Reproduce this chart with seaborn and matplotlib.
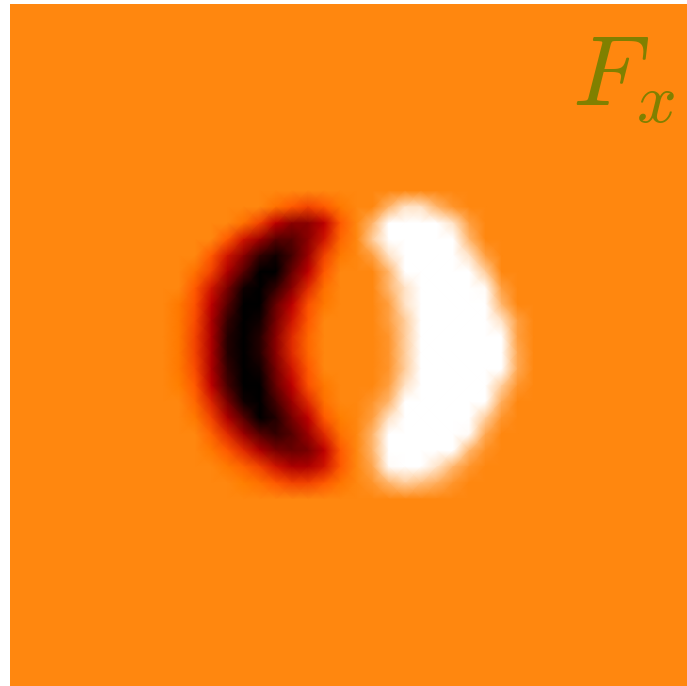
import numpy as np
import matplotlib
matplotlib.use("Agg")
import matplotlib.pyplot as plt
import seaborn as sns

# Fx sampled on a 42 x 42 grid; cells outside the listed window sit at zero.
grid_size = 42
window_row0 = 11   # grid row of the first string below
window_col0 = 10   # grid column of the first value in each string

# Negative lobe (columns 10-20) followed by positive lobe (columns 21-32), rows 11-30
fx_rows = [
    "0 0 0 0 0 0 0 0 0 0 0        0 0 0 0 0 0 0 0 0 0 0 0",
    "0 0 0 0 0 0 -0.5 -1 -1.5 -1 -0.3        0 0 1 2 2 1 0.3 0 0 0 0 0",
    "0 0 0 0 -0.5 -1.5 -3 -4.5 -4.5 -3 -1        0 1 3 5 5 4 2 0.5 0 0 0 0",
    "0 0 0 -1 -2.5 -4 -6 -6 -4.5 -2.5 -0.7        0 1.5 3 5 6 5 3 1 0 0 0 0",
    "0 0 -1 -2.5 -4.5 -7 -8 -6.5 -4 -1.5 -0.3        0 0.5 2 4 6 6 5 2 0.5 0 0 0",
    "0 -0.5 -1.5 -3.5 -6 -8.5 -8.5 -5.5 -3 -1 0        0 0 1 3 5 6 6 4 1.5 0 0 0",
    "0 -1 -2.5 -5 -8 -9 -7 -4.5 -2 -0.5 0        0 0 1 2 4 6 6 5 2.5 0.5 0 0",
    "-0.3 -1.2 -3 -6 -9 -8.5 -5.5 -3 -1.2 -0.3 0        0 0 0.5 2 3.5 6 7 6 4 1 0 0",
    "-0.3 -1.3 -3.5 -7 -9.5 -8 -5 -2.5 -1 0 0        0 0 0.5 1.5 3 5 7 7 5 2 0.5 0",
    "-0.3 -1.5 -3.5 -7.5 -9.5 -7.5 -4.5 -2 -0.7 0 0        0 0 0.3 1.5 3 5 7 7 5 3 0.5 0",
    "-0.3 -1.5 -3.5 -7.5 -9.5 -7.5 -4.5 -2 -0.7 0 0        0 0 0.3 1.5 3 5 7 7 6 3 0.7 0",
    "-0.3 -1.3 -3.5 -7 -9.5 -8 -5 -2.5 -1 0 0        0 0 0.3 1.5 3 5 7 7 5 3 0.7 0",
    "-0.2 -1 -3 -6.5 -9 -8.5 -5.5 -3 -1.2 -0.3 0        0 0 0.5 2 4 6 7 6 4 1.5 0.3 0",
    "0 -0.7 -2.2 -5 -8 -9 -6.5 -4 -2 -0.5 0        0 0.3 1 3 5 6 6 5 3 0.8 0 0",
    "0 -0.3 -1.5 -3.5 -6 -8.5 -7.5 -5 -3 -1 -0.2        0 0.5 2 4 6 6 5 4 1.5 0.3 0 0",
    "0 0 -0.8 -2 -4 -6 -7 -6 -4 -2 -0.5        0 1 3 5 6 5 4 2.5 0.7 0 0 0",
    "0 0 -0.3 -1 -2 -3.5 -5 -5.5 -5 -3 -1        0 1 3 5 5 4 3 1 0.2 0 0 0",
    "0 0 0 -0.3 -0.8 -1.5 -2.5 -3.5 -3.5 -2.5 -1        0 0.7 2.5 3.5 3 2 1 0.3 0 0 0 0",
    "0 0 0 0 -0.2 -0.5 -1 -1.5 -1.5 -1 -0.4        0 0.3 1 1.5 1.2 0.8 0.3 0 0 0 0 0",
    "0 0 0 0 0 0 0 0 0 0 0        0 0 0 0 0 0 0 0 0 0 0 0",
]

# colour limits of the field
fx_min = -8.5
fx_max = 2.61

label_text = r"$F_x$"

field = np.zeros((grid_size, grid_size))
for r, row in enumerate(fx_rows):
    vals = [float(v) for v in row.split()]
    field[window_row0 + r, window_col0:window_col0 + len(vals)] = vals

plt.rcParams["mathtext.fontset"] = "cm"

fig = plt.figure(figsize=(6.87, 6.86), dpi=100)
ax = fig.add_axes([10 / 687, 0.0, 677 / 687, 682 / 686])

cmap = plt.get_cmap("gist_heat")
sns.heatmap(
    field, cmap=cmap, vmin=fx_min, vmax=fx_max, cbar=False,
    xticklabels=False, yticklabels=False, ax=ax, shading="gouraud",
)
ax.set_xlim(-0.5, grid_size - 0.5)
ax.set_ylim(grid_size - 0.5, -0.5)
ax.set_facecolor(cmap((0 - fx_min) / (fx_max - fx_min)))
for s in ax.spines.values():
    s.set_visible(False)

ax.text(0.983, 0.962, label_text, transform=ax.transAxes, ha="right", va="top",
        fontsize=72, color="olive")

fig.savefig("out.png", dpi=100)
